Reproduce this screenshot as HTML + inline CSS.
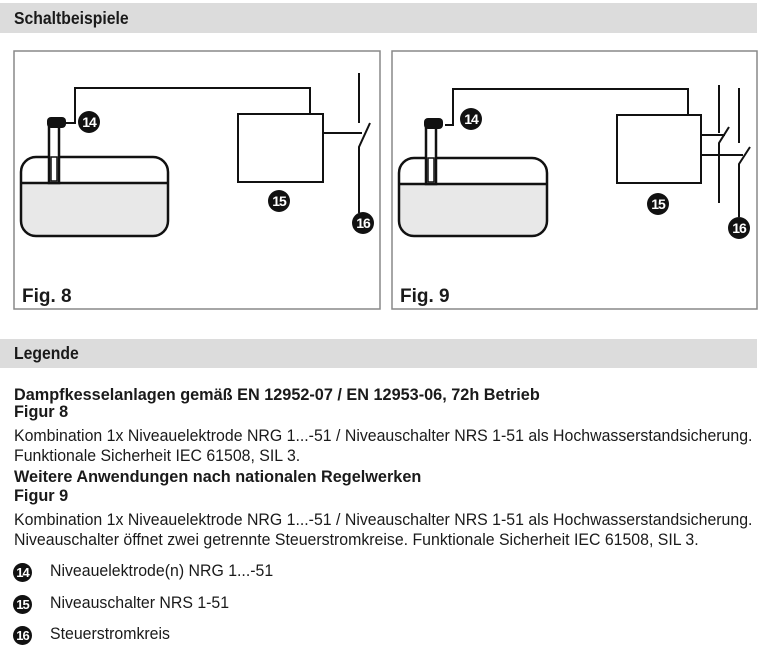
<!DOCTYPE html>
<html><head><meta charset="utf-8"><style>
body{margin:0;width:762px;height:667px;background:#fff;position:relative;overflow:hidden;font-family:"Liberation Sans Narrow","Liberation Sans",sans-serif;color:#1a1a1a}
.bar{position:absolute;left:0;width:757px;background:#dcdcdc;font-weight:bold;font-size:17.5px}
.bar span{position:absolute;left:14px;transform:scaleX(0.9);transform-origin:left center}
.t{position:absolute;left:14px;font-size:16.5px;white-space:nowrap;transform:scaleX(0.962);transform-origin:left top}
.b{font-weight:bold;transform:scaleX(0.985)}
.n{position:absolute;left:13px;width:19px;height:19px;border-radius:50%;background:#111;color:#fff;font-weight:bold;font-size:13px;text-align:center;line-height:19px;letter-spacing:-1px}
.l{position:absolute;left:50px;font-size:16.5px;white-space:nowrap;transform:scaleX(0.962);transform-origin:left top}
</style></head><body>
<div class="bar" style="top:3px;height:30px;line-height:30px"><span>Schaltbeispiele</span></div>
<div class="bar" style="top:339px;height:29px;line-height:29px"><span>Legende</span></div>
<svg width="762" height="330" style="position:absolute;left:0;top:0" font-family="Liberation Sans Narrow, Liberation Sans, sans-serif">
<g fill="none" stroke="#888" stroke-width="1.5"><rect x="14" y="51" width="366" height="258"/><rect x="392" y="51" width="365" height="258"/></g>
<g stroke="#111" stroke-width="2.5" fill="none">
<path d="M21 183 H168 V221 a15 15 0 0 1 -15 15 H36 a15 15 0 0 1 -15 -15 Z" fill="#e8e8e8" stroke="none"/>
<rect x="21" y="157" width="147" height="79" rx="15"/>
<line x1="21" y1="183" x2="168" y2="183"/>
<rect x="49" y="125" width="10" height="58" fill="#fff"/>
<rect x="51" y="157" width="6" height="24" fill="#fff" stroke-width="1.5"/>
<path d="M66 123 H75 V88 H310 V114" stroke-width="2"/>
<rect x="238" y="114" width="85" height="68" stroke-width="2"/>
<path d="M323 133 H362" stroke-width="2"/>
<path d="M359 73 V123 M370 123 L359 147 V213" stroke-width="2"/>
<path d="M399 184 H547 V221 a15 15 0 0 1 -15 15 H414 a15 15 0 0 1 -15 -15 Z" fill="#e8e8e8" stroke="none"/>
<rect x="399" y="158" width="148" height="78" rx="15"/>
<line x1="399" y1="184" x2="547" y2="184"/>
<rect x="426" y="126" width="10" height="58" fill="#fff"/>
<rect x="428" y="158" width="6" height="24" fill="#fff" stroke-width="1.5"/>
<path d="M445 125 H453 V89 H688 V115" stroke-width="2"/>
<rect x="617" y="115" width="84" height="68" stroke-width="2"/>
<path d="M701 135 H725 M701 155 H743" stroke-width="2"/>
<path d="M719 85 V133 M729 127 L719 143 V203" stroke-width="2"/>
<path d="M739 88 V143 M750 147 L739 164 V217" stroke-width="2"/>
</g>
<g fill="#111"><rect x="47" y="117" width="19" height="11" rx="4"/><rect x="424" y="118" width="19" height="11" rx="4"/></g>
<g fill="#111"><circle cx="89" cy="122" r="11"/><circle cx="279" cy="201" r="11"/><circle cx="363" cy="223" r="11"/>
<circle cx="471" cy="119" r="11"/><circle cx="658" cy="204" r="11"/><circle cx="739" cy="228" r="11"/></g>
<g fill="#fff" font-weight="bold" font-size="14" text-anchor="middle" letter-spacing="-1">
<text x="89" y="127">14</text><text x="279" y="206">15</text><text x="363" y="228">16</text>
<text x="471" y="124">14</text><text x="658" y="209">15</text><text x="739" y="233">16</text></g>
<g fill="#1a1a1a" font-weight="bold" font-size="19"><text x="22" y="302">Fig. 8</text><text x="400" y="302">Fig. 9</text></g>
</svg>
<div class="t b" style="top:386px">Dampfkesselanlagen gemäß EN 12952-07 / EN 12953-06, 72h Betrieb</div>
<div class="t b" style="top:403px">Figur 8</div>
<div class="t" style="top:427px">Kombination 1x Niveauelektrode NRG 1...-51 / Niveauschalter NRS 1-51 als Hochwasserstandsicherung.</div>
<div class="t" style="top:447px">Funktionale Sicherheit IEC 61508, SIL 3.</div>
<div class="t b" style="top:468px">Weitere Anwendungen nach nationalen Regelwerken</div>
<div class="t b" style="top:487px">Figur 9</div>
<div class="t" style="top:511px">Kombination 1x Niveauelektrode NRG 1...-51 / Niveauschalter NRS 1-51 als Hochwasserstandsicherung.</div>
<div class="t" style="top:531px">Niveauschalter öffnet zwei getrennte Steuerstromkreise. Funktionale Sicherheit IEC 61508, SIL 3.</div>
<div class="n" style="top:563px">14</div><div class="l" style="top:562px">Niveauelektrode(n) NRG 1...-51</div>
<div class="n" style="top:595px">15</div><div class="l" style="top:594px">Niveauschalter NRS 1-51</div>
<div class="n" style="top:626px">16</div><div class="l" style="top:625px">Steuerstromkreis</div>
</body></html>
